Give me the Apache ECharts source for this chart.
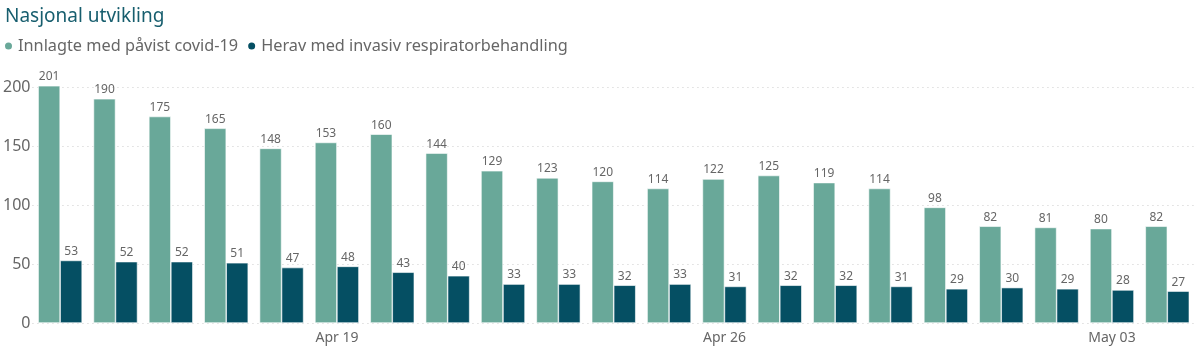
<!DOCTYPE html>
<html><head><meta charset="utf-8">
<script src="https://cdn.jsdelivr.net/npm/echarts@6/dist/echarts.min.js"></script>
<style>html,body{margin:0;padding:0;background:#fff}#c{width:1200px;height:351px}</style>
</head><body><div id="c"></div>
<script>
const categories = ["Apr 14","Apr 15","Apr 16","Apr 17","Apr 18","Apr 19","Apr 20","Apr 21","Apr 22","Apr 23","Apr 24","Apr 25","Apr 26","Apr 27","Apr 28","Apr 29","Apr 30","May 01","May 02","May 03","May 04"];
const shownTicks = ["Apr 19","Apr 26","May 03"];
const innlagte = [201,190,175,165,148,153,160,144,129,123,120,114,122,125,119,114,98,82,81,80,82];
const respirator = [53,52,52,51,47,48,43,40,33,33,32,33,31,32,32,31,29,30,29,28,27];
const yTicks = [0,50,100,150,200];

const font = "Noto Sans";
const chart = echarts.init(document.getElementById('c'));
chart.setOption({
  animation:false,
  textStyle:{fontFamily:font},
  title:{text:"Nasjonal utvikling",left:0,top:2,textStyle:{fontFamily:font,fontSize:19,fontWeight:'normal',color:'#175E6E'}},
  legend:{left:3,top:38,padding:0,itemGap:8,icon:'circle',itemWidth:9,itemHeight:9,textStyle:{fontFamily:font,fontSize:16.3,color:'#666'},
    data:["Innlagte med påvist covid-19","Herav med invasiv respiratorbehandling"]},
  grid:{left:29,right:5,top:87,bottom:28,containLabel:false},
  xAxis:{type:'category',data:categories,axisLine:{show:false},axisTick:{show:false},
    axisLabel:{interval:0,formatter:v=>shownTicks.includes(v)?v:'',color:'#666',fontSize:14,margin:8,fontFamily:font}},
  yAxis:{type:'value',min:yTicks[0],max:yTicks[yTicks.length-1],interval:50,
    axisLabel:{color:'#666',fontSize:16,margin:2,fontFamily:font},
    splitLine:{lineStyle:{type:[1,4],color:'#ccc'}}},
  series:[
    {name:"Innlagte med påvist covid-19",type:'bar',data:innlagte,clip:false,barGap:'0%',barCategoryGap:'20.5%',
      itemStyle:{color:'#69A899',borderColor:'#fff',borderWidth:0.6},
      label:{show:true,position:'top',distance:3,color:'#666',fontSize:12,fontFamily:font}},
    {name:"Herav med invasiv respiratorbehandling",type:'bar',data:respirator,clip:false,
      itemStyle:{color:'#054F63',borderColor:'#fff',borderWidth:0.6},
      label:{show:true,position:'top',distance:3,color:'#666',fontSize:12,fontFamily:font}}
  ]
});
</script></body></html>
